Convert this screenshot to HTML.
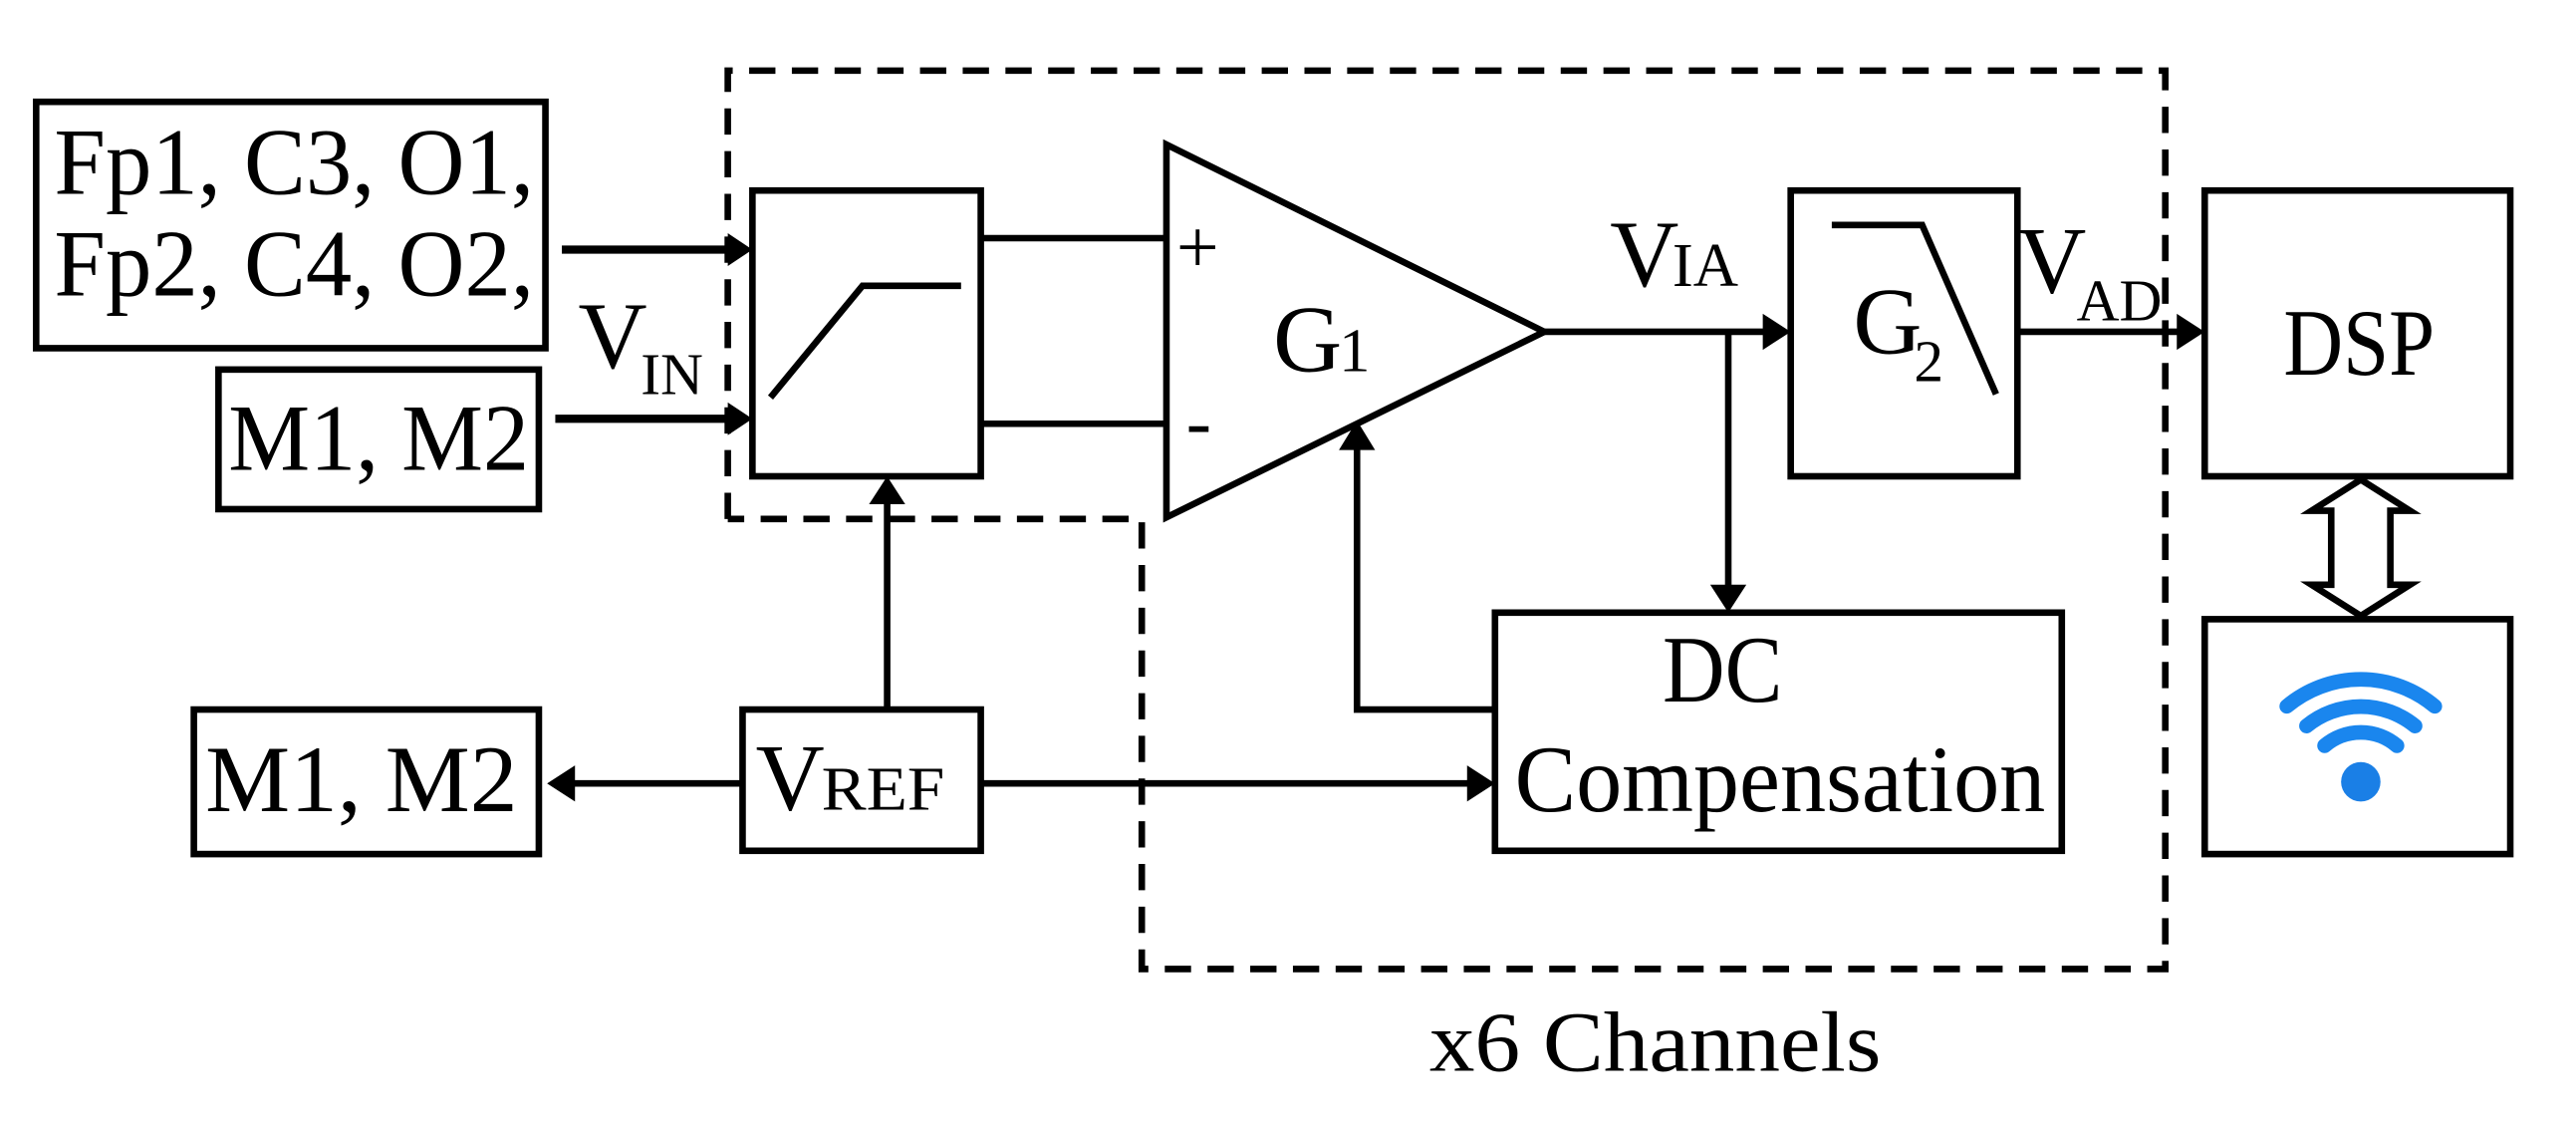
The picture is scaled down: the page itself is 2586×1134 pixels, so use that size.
<!DOCTYPE html>
<html><head><meta charset="utf-8"><style>html,body{margin:0;padding:0;background:#fff}svg{display:block}text{font-family:"Liberation Serif","Times New Roman",serif}</style></head>
<body>
<svg width="2586" height="1134" viewBox="0 0 1568 688" preserveAspectRatio="none" xmlns="http://www.w3.org/2000/svg" fill="none" stroke="#000">
<rect width="1568" height="688" fill="#fff" stroke="none"/>
<!-- dashed region -->
<path d="M443,316 L443,43 L1318,43 L1318,590 L695,590 L695,316 L443,316" stroke-width="4" stroke-dasharray="16,10"/>
<g stroke-width="4">
<rect x="22" y="62" width="310" height="150"/>
<rect x="133" y="225" width="195" height="85"/>
<rect x="458" y="116" width="139" height="174"/>
<polyline points="469,242 525,174 585,174"/>
<line x1="597" y1="145" x2="710" y2="145"/>
<line x1="597" y1="258" x2="710" y2="258"/>
<polygon points="710,88 710,315 940,202"/>
<rect x="1090" y="116" width="138" height="174"/>
<polyline points="1115,137 1170,137 1215,240"/>
<rect x="1342" y="116" width="186" height="174"/>
<rect x="1342" y="377" width="186" height="143"/>
<rect x="910" y="373" width="345" height="145"/>
<rect x="452" y="432" width="145" height="86"/>
<rect x="118" y="432" width="210" height="88"/>
<line x1="342" y1="152" x2="445" y2="152" stroke-width="5"/>
<line x1="338" y1="255" x2="445" y2="255" stroke-width="5"/>
<line x1="940" y1="202" x2="1075" y2="202"/>
<line x1="1052" y1="202" x2="1052" y2="360"/>
<line x1="1228" y1="202" x2="1328" y2="202"/>
<polyline points="910,432 826,432 826,272"/>
<line x1="540" y1="432" x2="540" y2="305"/>
<line x1="597" y1="477" x2="895" y2="477"/>
<line x1="452" y1="477" x2="348" y2="477"/>
<polygon points="1437,292 1467,311 1455,311 1455,356 1467,356 1437,375 1407,356 1419,356 1419,311 1407,311" fill="#fff"/>
</g>
<!-- arrowheads -->
<g fill="#000" stroke="none">
<polygon points="458,152 443,142 443,162"/>
<polygon points="458,255 443,245 443,265"/>
<polygon points="1090,202 1073,191 1073,213"/>
<polygon points="1052,373 1041,356 1063,356"/>
<polygon points="1342,202 1325,191 1325,213"/>
<polygon points="826,256 815,274 837,274"/>
<polygon points="540,290 529,307 551,307"/>
<polygon points="910,477 893,466 893,488"/>
<polygon points="333,477 350,466 350,488"/>
</g>
<!-- wifi -->
<g stroke="#1a86ee" stroke-width="9" stroke-linecap="round">
<path d="M1392,430 A70,70 0 0 1 1482,430"/>
<path d="M1404,442 A52,52 0 0 1 1470,442"/>
<path d="M1415,454 A34,34 0 0 1 1459,454"/>
</g>
<circle cx="1437" cy="476" r="12" fill="#1a7fe6" stroke="none"/>
<g fill="#000" stroke="none" font-size="58">
<text x="33" y="118" textLength="292" lengthAdjust="spacingAndGlyphs">Fp1, C3, O1,</text>
<text x="33" y="180" textLength="292" lengthAdjust="spacingAndGlyphs">Fp2, C4, O2,</text>
<text x="139" y="286" textLength="183" lengthAdjust="spacingAndGlyphs">M1, M2</text>
<text x="125" y="494" textLength="190" lengthAdjust="spacingAndGlyphs">M1, M2</text>
<text x="352" y="224">V</text>
<text x="390" y="240" font-size="36">IN</text>
<text x="460" y="493">V</text><text x="500" y="493" font-size="38" textLength="75" lengthAdjust="spacingAndGlyphs">REF</text>
<text x="775" y="226">G</text><text x="815" y="226" font-size="38">1</text>
<text x="980" y="174">V</text><text x="1018" y="174" font-size="38">IA</text>
<text x="1128" y="215">G</text><text x="1165" y="232" font-size="36">2</text>
<text x="1228" y="178">V</text><text x="1264" y="195" font-size="36">AD</text>
<text x="1390" y="228" textLength="92" lengthAdjust="spacingAndGlyphs">DSP</text>
<text x="1012" y="427" textLength="73" lengthAdjust="spacingAndGlyphs">DC</text>
<text x="922" y="494" textLength="323" lengthAdjust="spacingAndGlyphs">Compensation</text>
<text x="870" y="652" font-size="52" textLength="275" lengthAdjust="spacingAndGlyphs">x6 Channels</text>
<text x="716" y="166" font-size="46">+</text>
<text x="722" y="272" font-size="46">-</text>
</g>
</svg>
</body></html>
